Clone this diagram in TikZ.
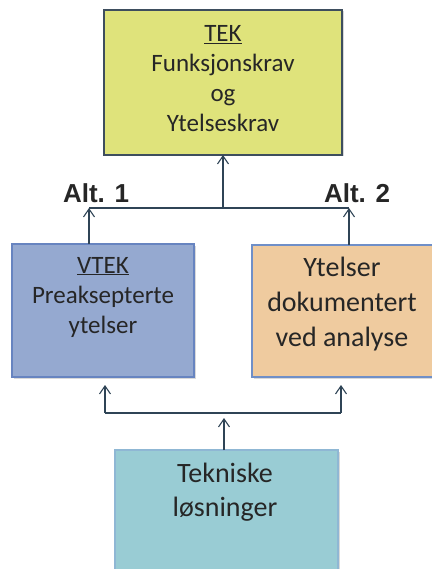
\documentclass[tikz,border=0pt]{standalone}
\usepackage{fontspec}
\setmainfont{Carlito}
\newfontfamily\altfont{Liberation Sans}
\usetikzlibrary{arrows.meta,shadows}
\definecolor{tekfill}{HTML}{DFE37B}
\definecolor{tekdraw}{HTML}{3E4E5E}
\definecolor{vtekfill}{HTML}{95A9D0}
\definecolor{vtekdraw}{HTML}{6784C0}
\definecolor{ytfill}{HTML}{EFCB9F}
\definecolor{ytdraw}{HTML}{6F8FC8}
\definecolor{tlfill}{HTML}{99CCD4}
\definecolor{tldraw}{HTML}{8FB7D4}
\definecolor{linec}{HTML}{2F4456}
\definecolor{txt}{HTML}{262626}
\tikzset{
  boxst/.style={rectangle, inner sep=0pt, line width=1.2pt, drop shadow={shadow xshift=1.5pt,shadow yshift=-1.5pt,opacity=0.3}},
  lbl/.style={text=txt, align=center, inner sep=0pt},
  arr/.style={linec, line width=1.1pt, -{Straight Barb[length=8pt,width=11pt,line width=1.1pt]}},
  ln/.style={linec, line width=1.1pt},
  alt/.style={text=txt, inner sep=0pt, font=\altfont\bfseries\fontsize{26}{30}\selectfont}
}
\begin{document}
\begin{tikzpicture}[x=1pt,y=-1pt]
\useasboundingbox (0,0) rectangle (431,569);
% boxes
\node[boxst, draw=tekdraw, fill=tekfill, minimum width=238pt, minimum height=145pt] (tek) at (223,82.5) {};
\node[boxst, draw=vtekdraw, fill=vtekfill, minimum width=182pt, minimum height=133pt] (vtek) at (103,310.5) {};
\node[boxst, draw=ytdraw, fill=ytfill, minimum width=190pt, minimum height=132pt] (yt) at (347,311) {};
\node[boxst, draw=tldraw, fill=tlfill, minimum width=223pt, minimum height=130pt] (tl) at (226.5,515) {};
% texts
\node[lbl, font=\fontsize{25}{30}\selectfont] (tektxt) at (223,79) {\underline{TEK}\\Funksjonskrav\\og\\Ytelseskrav};
\node[lbl, font=\fontsize{25}{30}\selectfont] (vtektxt) at (103,297) {\underline{VTEK}\\Preaksepterte\\ytelser};
\node[lbl, font=\fontsize{28}{35}\selectfont] (yttxt) at (342,304) {Ytelser\\dokumentert\\ved analyse};
\node[lbl, font=\fontsize{28}{34}\selectfont] (tltxt) at (225,492.5) {Tekniske\\løsninger};
\node[alt] (alt1) at (96,193) {Alt. 1};
\node[alt] (alt2) at (357,193) {Alt. 2};
% top connectors
\coordinate (ja) at (89,208);
\coordinate (jb) at (349,208);
\coordinate (jm) at (223,208);
\coordinate (va) at (89,244);
\coordinate (vb) at (349,245);
\coordinate (tm) at (223,155);
\draw[ln] (ja) -- (jb);
\draw[arr] (jm) -- (tm);
\draw[arr] (va) -- (ja);
\draw[arr] (vb) -- (jb);
% bottom connectors
\coordinate (ba) at (105,413);
\coordinate (bb) at (341,413);
\coordinate (bat) at (105,385);
\coordinate (bbt) at (341,385);
\coordinate (bm) at (224,450);
\coordinate (bmt) at (224,418);
\draw[ln] (ba) -- (bb);
\draw[arr] (ba) -- (bat);
\draw[arr] (bb) -- (bbt);
\draw[arr] (bm) -- (bmt);
\end{tikzpicture}
\end{document}
